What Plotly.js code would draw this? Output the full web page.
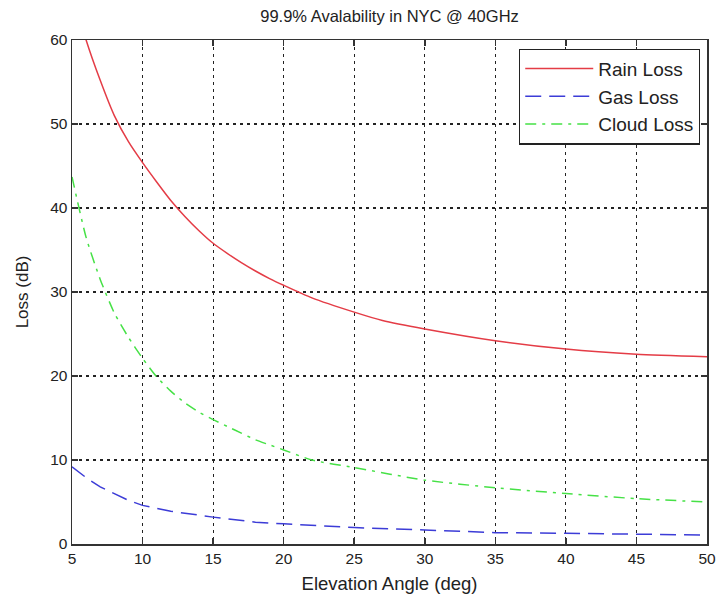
<!DOCTYPE html>
<html>
<head>
<meta charset="utf-8">
<script src="https://cdn.plot.ly/plotly-3.0.1.min.js"></script>
<style>html,body{margin:0;padding:0;background:#fff;}#chart{width:720px;height:598px;}</style>
</head>
<body>
<div id="chart"></div>
<script>
const rainAngle = [5, 6, 7, 8, 9, 10, 11, 12, 13, 14, 15, 16, 17, 18, 19, 20, 22, 25, 27, 30, 35, 40, 45, 50];
const rainLoss  = [66, 60, 55.2, 51.0, 47.9, 45.4, 43.1, 40.9, 39.0, 37.3, 35.8, 34.6, 33.5, 32.5, 31.6, 30.8, 29.3, 27.6, 26.6, 25.6, 24.2, 23.2, 22.6, 22.3];

const gasAngle = [5, 6, 7, 8, 9, 10, 12, 15, 18, 20, 25, 30, 35, 40, 45, 50];
const gasLoss  = [9.2, 7.9, 6.8, 6.0, 5.2, 4.6, 3.9, 3.2, 2.6, 2.4, 1.95, 1.67, 1.35, 1.27, 1.15, 1.07];

const cloudAngle = [5, 6, 7, 8, 9, 10, 11, 12, 13, 14, 15, 16, 17, 18, 19, 20, 22, 25, 30, 35, 40, 45, 50];
const cloudLoss  = [43.7, 36.5, 31.5, 27.5, 24.6, 22.1, 19.9, 18.2, 16.8, 15.7, 14.8, 14.0, 13.2, 12.4, 11.8, 11.2, 10.0, 9.1, 7.6, 6.7, 6.0, 5.4, 5.0];

const xTicks = [5, 10, 15, 20, 25, 30, 35, 40, 45, 50];
const yTicks = [0, 10, 20, 30, 40, 50, 60];

const font = "Liberation Sans, Arial, sans-serif";

const traces = [
  {x: rainAngle, y: rainLoss, name: "Rain Loss", mode: "lines",
   line: {color: "rgb(228,60,70)", width: 1.5, dash: "solid", shape: "spline", smoothing: 0.6}},
  {x: gasAngle, y: gasLoss, name: "Gas Loss", mode: "lines",
   line: {color: "rgb(60,60,215)", width: 1.5, dash: "16px,8px"}},
  {x: cloudAngle, y: cloudLoss, name: "Cloud Loss", mode: "lines",
   line: {color: "rgb(70,225,70)", width: 1.5, dash: "11px,6px,3px,6px", shape: "spline", smoothing: 0.6}}
];

const axisCommon = {
  showline: true, linecolor: "#333", linewidth: 1.5, mirror: "ticks",
  ticks: "inside", ticklen: 6, tickcolor: "#333", tickwidth: 1.5,
  showgrid: true, gridcolor: "#222", gridwidth: 1.2, griddash: "3px,4px",
  zeroline: false, tickfont: {family: font, size: 15.5, color: "#222"}
};

const layout = {
  width: 720, height: 598,
  margin: {l: 72, r: 13, t: 40, b: 54},
  paper_bgcolor: "#fff", plot_bgcolor: "#fff",
  title: {text: "99.9% Avalability in NYC @ 40GHz", font: {family: font, size: 16.5, color: "#222"},
          x: 0.541, xanchor: "center", y: 0.973, yanchor: "middle"},
  xaxis: Object.assign({}, axisCommon, {
    range: [5, 50], tickvals: xTicks, ticktext: xTicks.map(String),
    title: {text: "Elevation Angle (deg)", font: {family: font, size: 18.5, color: "#222"}, standoff: 11}
  }),
  yaxis: Object.assign({}, axisCommon, {
    range: [0, 60], tickvals: yTicks, ticktext: yTicks.map(String),
    title: {text: "Loss (dB)", font: {family: font, size: 17, color: "#222"}, standoff: 17}
  }),
  legend: {x: 0.704, y: 0.983, xanchor: "left", yanchor: "top",
           bgcolor: "#fff", bordercolor: "#222", borderwidth: 1.2,
           font: {family: font, size: 19, color: "#222"}, itemwidth: 68,
           tracegroupgap: 0},
  showlegend: true
};

Plotly.newPlot("chart", traces, layout, {displayModeBar: false, staticPlot: true});
</script>
</body>
</html>
